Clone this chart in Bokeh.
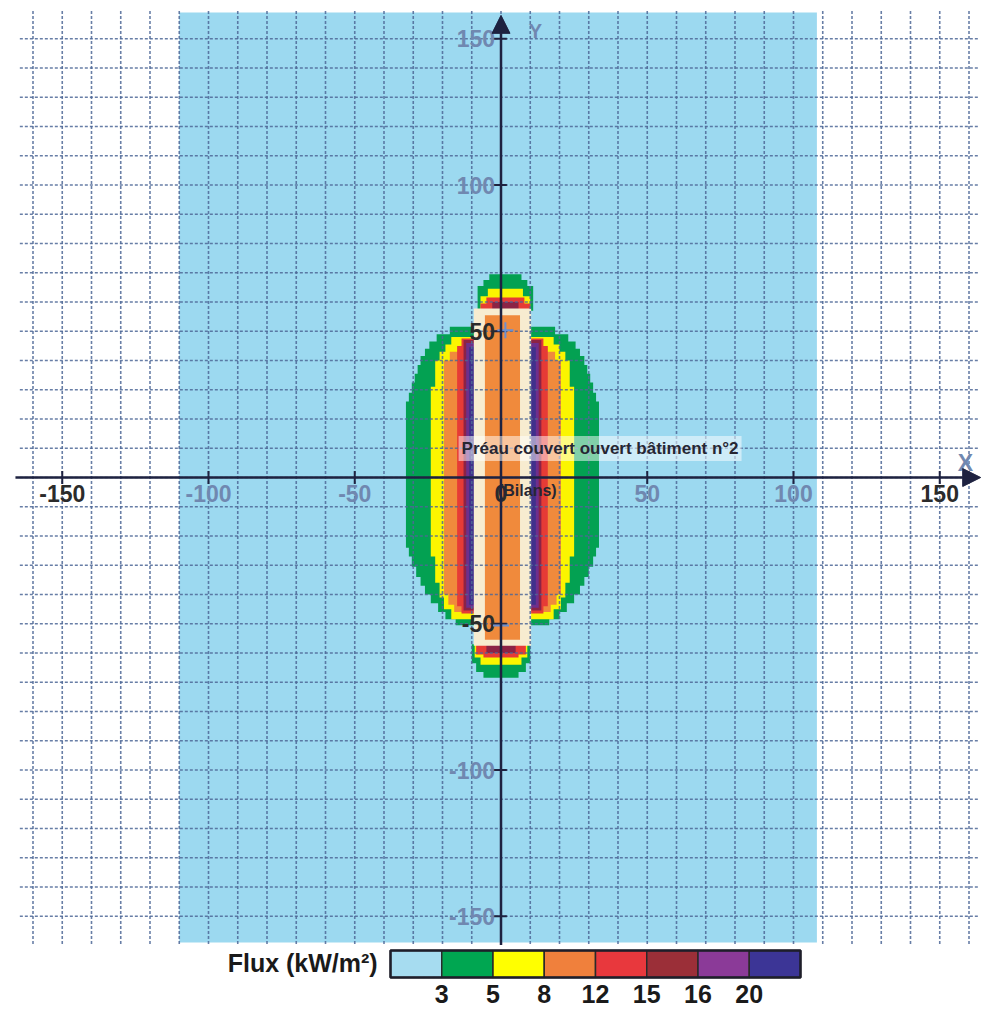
from bokeh.plotting import figure
from bokeh.layouts import column
from bokeh.models import Range1d, Arrow, NormalHead, Label
from bokeh.core.properties import value
from bokeh.embed import file_html
from bokeh.resources import INLINE

# ---------------- data ----------------
X_TICKS = [-150, -100, -50, 50, 100, 150]
X_LABEL_POS = [-150, -100, -50, 0, 50, 100, 150]
X_LABELS = ["-150", "-100", "-50", "0", "50", "100", "150"]
Y_TICKS = [150, 100, 50, -50, -100, -150]
Y_LABELS = ["150", "100", "50", "-50", "-100", "-150"]
GRID_X = list(range(-160, 170, 10))
GRID_Y = list(range(-150, 160, 10))

# light-blue computed domain
DOMAIN_X = [-110, 108]
DOMAIN_Y = [-159, 159]

# building (Préau) and its core
BUILDING_X = [-9.3, 10.3]
BUILDING_Y = [-57.5, 57.8]
CORE_X = [-5.5, 6.5]
CORE_Y = [-55.5, 55.5]
LOBE_CX = 0.5
TOP_CAP_CX = 1.5
BOTTOM_CAP_CX = 0.0

# side lobes: band edges (y) and half widths for each flux level
GREEN_Y = [51.5, 49, 46.5, 44, 41.5, 38.5, 35.5, 32.5, 29, 26, -24, -27, -30.5, -34, -37, -40, -43, -46, -48.5, -50.5]
GREEN_HW = [18, 22.5, 25, 26.5, 28, 29, 30, 31, 32, 33, 32, 31, 29.5, 28, 26.5, 24.5, 22, 19.5, 16]
YELLOW_Y = [48, 45.5, 43, 40, 31, -27, -36, -41, -45, -48.5]
YELLOW_HW = [17.5, 19.5, 21.5, 23, 24.5, 23, 21.5, 20, 17.5]
ORANGE_Y = [43, 40, -40, -43.5, -46]
ORANGE_HW = [18, 20, 18.5, 16.5]
RED_Y = [47.5, 45, -44, -46.5]
RED_HW = [14, 15.5, 14]
MAROON_Y = [47, -45.5]
MAROON_HW = [13.3]
PURPLE_Y = [46, -44.5]
PURPLE_HW = [12.4]
INDIGO_Y = [44.5, -43.5]
INDIGO_HW = [11.4]

# end caps (top / bottom of the building)
CAP_T_GREEN_Y = [69.5, 67.5, 65.5, 57]
CAP_T_GREEN_HW = [5.5, 7.5, 9.5]
CAP_T_YELLOW_Y = [64.5, 62, 57]
CAP_T_YELLOW_HW = [6, 8.5]
CAP_T_RED_Y = [61.5, 59.5, 57]
CAP_T_RED_HW = [6.5, 8.5]
CAP_T_MAROON_Y = [60, 57]
CAP_T_MAROON_HW = [4.5]
CAP_B_GREEN_Y = [-57, -63.5, -66.5, -68.5]
CAP_B_GREEN_HW = [10, 8.5, 6]
CAP_B_YELLOW_Y = [-57, -61.5, -64]
CAP_B_YELLOW_HW = [9, 7]
CAP_B_RED_Y = [-57, -60.5, -61.5]
CAP_B_RED_HW = [8.5, 6]
CAP_B_MAROON_Y = [-57, -60]
CAP_B_MAROON_HW = [5]

MARKER_X = [1.5, 0.0]
MARKER_Y = [50.3, -50.6]

LEGEND_BOUNDS = ["3", "5", "8", "12", "15", "16", "20"]
LEGEND_COLORS = ["#a6dcf0", "#00a651", "#ffff00", "#f0803c", "#e8383d", "#9b2f38", "#8b3a98", "#3c3596"]

# ---------------- styles ----------------
C_BG = "#9cd9f0"
C_GREEN = "#03a152"
C_YELLOW = "#fbf500"
C_ORANGE = "#f08a3c"
C_RED = "#e63b36"
C_MAROON = "#8c2345"
C_PURPLE = "#6e2f8c"
C_INDIGO = "#40308c"
C_CREAM = "#f7ecd0"
C_AXIS = "#1e2240"
C_GRID = "#4d6796"
C_LAB_DARK = "#2b2b2b"
C_LAB_BLUE = "#7088b0"
X_LABEL_COLORS = [C_LAB_DARK, C_LAB_BLUE, C_LAB_BLUE, C_LAB_DARK, C_LAB_BLUE, C_LAB_BLUE, C_LAB_DARK]
Y_LABEL_COLORS = [C_LAB_BLUE, C_LAB_BLUE, C_LAB_DARK, C_LAB_DARK, C_LAB_BLUE, C_LAB_BLUE]
SANS = "Liberation Sans"

W = 984
H_MAIN = 945
SCALE = 2.925
X0_PX, Y0_PX = 500.5, 477.0  # origin inside the frame

x_rng = Range1d(-X0_PX / SCALE, (W - X0_PX) / SCALE)
y_rng = Range1d(-(H_MAIN - Y0_PX) / SCALE, Y0_PX / SCALE)

p = figure(width=W, height=H_MAIN, x_range=x_rng, y_range=y_rng,
           toolbar_location=None, output_backend="svg",
           x_axis_type=None, y_axis_type=None, min_border=0)
p.outline_line_color = None
p.background_fill_color = "white"
p.border_fill_color = "white"

# domain
p.quad(left=[DOMAIN_X[0]], right=[DOMAIN_X[1]], bottom=[DOMAIN_Y[0]], top=[DOMAIN_Y[1]],
       fill_color=C_BG, line_color=None)


def stair(cx, ys, hws):
    rx, ry = [], []
    for i, hw in enumerate(hws):
        rx += [cx + hw, cx + hw]
        ry += [ys[i], ys[i + 1]]
    lx = [2 * cx - v for v in reversed(rx)]
    ly = list(reversed(ry))
    return rx + lx, ry + ly


zones = [
    (LOBE_CX, GREEN_Y, GREEN_HW, C_GREEN),
    (LOBE_CX, YELLOW_Y, YELLOW_HW, C_YELLOW),
    (LOBE_CX, ORANGE_Y, ORANGE_HW, C_ORANGE),
    (LOBE_CX, RED_Y, RED_HW, C_RED),
    (LOBE_CX, MAROON_Y, MAROON_HW, C_MAROON),
    (LOBE_CX, PURPLE_Y, PURPLE_HW, C_PURPLE),
    (LOBE_CX, INDIGO_Y, INDIGO_HW, C_INDIGO),
    (TOP_CAP_CX, CAP_T_GREEN_Y, CAP_T_GREEN_HW, C_GREEN),
    (TOP_CAP_CX, CAP_T_YELLOW_Y, CAP_T_YELLOW_HW, C_YELLOW),
    (TOP_CAP_CX, CAP_T_RED_Y, CAP_T_RED_HW, C_RED),
    (TOP_CAP_CX, CAP_T_MAROON_Y, CAP_T_MAROON_HW, C_MAROON),
    (BOTTOM_CAP_CX, CAP_B_GREEN_Y, CAP_B_GREEN_HW, C_GREEN),
    (BOTTOM_CAP_CX, CAP_B_YELLOW_Y, CAP_B_YELLOW_HW, C_YELLOW),
    (BOTTOM_CAP_CX, CAP_B_RED_Y, CAP_B_RED_HW, C_RED),
    (BOTTOM_CAP_CX, CAP_B_MAROON_Y, CAP_B_MAROON_HW, C_MAROON),
]
for cx, ys, hws, col in zones:
    xs, yy = stair(cx, ys, hws)
    p.patch(xs, yy, fill_color=col, line_color=None)

# building
p.quad(left=[BUILDING_X[0]], right=[BUILDING_X[1]], bottom=[BUILDING_Y[0]], top=[BUILDING_Y[1]],
       fill_color=C_CREAM, line_color=None)
p.quad(left=[CORE_X[0]], right=[CORE_X[1]], bottom=[CORE_Y[0]], top=[CORE_Y[1]],
       fill_color=C_ORANGE, line_color=None)

# dashed grid over everything
GRID_V_SPAN = (-159.5, 159.5)
GRID_H_SPAN = (-164.5, 163.5)
p.segment(x0=GRID_X, x1=GRID_X, y0=[GRID_V_SPAN[0]] * len(GRID_X), y1=[GRID_V_SPAN[1]] * len(GRID_X),
          line_color=C_GRID, line_width=1.6, line_dash="3 2", line_alpha=0.85)
p.segment(x0=[GRID_H_SPAN[0]] * len(GRID_Y), x1=[GRID_H_SPAN[1]] * len(GRID_Y), y0=GRID_Y, y1=GRID_Y,
          line_color=C_GRID, line_width=1.6, line_dash="3 2", line_alpha=0.85)

# tick marks
p.segment(x0=X_TICKS, x1=X_TICKS, y0=[-2.2] * len(X_TICKS), y1=[2.2] * len(X_TICKS),
          line_color=C_AXIS, line_width=2)
p.segment(x0=[-3.0] * len(Y_TICKS), x1=[2.0] * len(Y_TICKS), y0=Y_TICKS, y1=Y_TICKS,
          line_color=C_AXIS, line_width=2)

# axes with arrows
p.add_layout(Arrow(end=NormalHead(size=18, fill_color=C_AXIS, line_color=C_AXIS),
                   x_start=-166, y_start=0, x_end=164, y_end=0,
                   line_color=C_AXIS, line_width=2.5))
p.add_layout(Arrow(end=NormalHead(size=18, fill_color=C_AXIS, line_color=C_AXIS),
                   x_start=0, y_start=-160, x_end=0, y_end=158,
                   line_color=C_AXIS, line_width=2.5))

# tick labels
p.text(x=X_LABEL_POS, y=[-5.6] * len(X_LABEL_POS), text=X_LABELS,
       text_color=X_LABEL_COLORS, text_font=value(SANS), text_font_style="bold",
       text_font_size="23px", text_align="center", text_baseline="middle")
p.text(x=[0] * len(Y_TICKS), y=Y_TICKS, text=Y_LABELS, x_offset=-6,
       text_color=Y_LABEL_COLORS, text_font=value(SANS), text_font_style="bold",
       text_font_size="23px", text_align="right", text_baseline="middle")

# axis names
p.text(x=[158.8], y=[4.8], text=["X"], text_color=C_LAB_BLUE, text_font=value(SANS),
       text_font_style="bold", text_font_size="23px", text_align="center", text_baseline="middle")
p.text(x=[11.8], y=[152.8], text=["Y"], text_color=C_LAB_BLUE, text_font=value(SANS),
       text_font_style="bold", text_font_size="20px", text_align="center", text_baseline="middle")

# markers on the building
p.scatter(x=MARKER_X, y=MARKER_Y, marker="cross", size=16, line_color="#6b8fd0", line_width=2)

# annotations
p.add_layout(Label(x=-14.5, y=9.9, text="Préau couvert ouvert bâtiment n°2",
                   text_font=SANS, text_font_style="bold", text_font_size="17px",
                   text_color="#262633", text_baseline="alphabetic",
                   background_fill_color="white", background_fill_alpha=0.5,
                   padding=3))
p.text(x=[9.0], y=[-4.4], text=["(Bilans)"], text_color="#262633", text_font=value(SANS),
       text_font_style="bold", text_font_size="16px", text_align="center", text_baseline="middle")

# ---------------- legend strip ----------------
H_LEG = 62
UNIT = 51.25
LEG_X0 = 390.0
leg = figure(width=W, height=H_LEG,
             x_range=Range1d(-LEG_X0 / UNIT, (W - LEG_X0) / UNIT),
             y_range=Range1d(H_LEG, 0),
             toolbar_location=None, output_backend="svg",
             x_axis_type=None, y_axis_type=None, min_border=0)
leg.outline_line_color = None
n = len(LEGEND_COLORS)
leg.quad(left=list(range(n)), right=[i + 1 for i in range(n)],
         top=[5] * n, bottom=[32] * n, fill_color=LEGEND_COLORS,
         line_color="#2a2a2a", line_width=1.5)
leg.quad(left=[0], right=[n], top=[5], bottom=[32], fill_color=None,
         line_color="#1e1e2a", line_width=2.5)
leg.text(x=[i + 1 for i in range(len(LEGEND_BOUNDS))], y=[48] * len(LEGEND_BOUNDS),
         text=LEGEND_BOUNDS, text_color="#1a1a1a", text_font=value(SANS),
         text_font_style="bold", text_font_size="25px", text_align="center",
         text_baseline="middle")
leg.text(x=[-0.25], y=[17], text=["Flux (kW/m²)"], text_color="#1a1a1a",
         text_font=value(SANS), text_font_style="bold", text_font_size="25px",
         text_align="right", text_baseline="middle")

layout = column(p, leg, spacing=0)
open("out.html", "w").write(file_html(layout, INLINE))
